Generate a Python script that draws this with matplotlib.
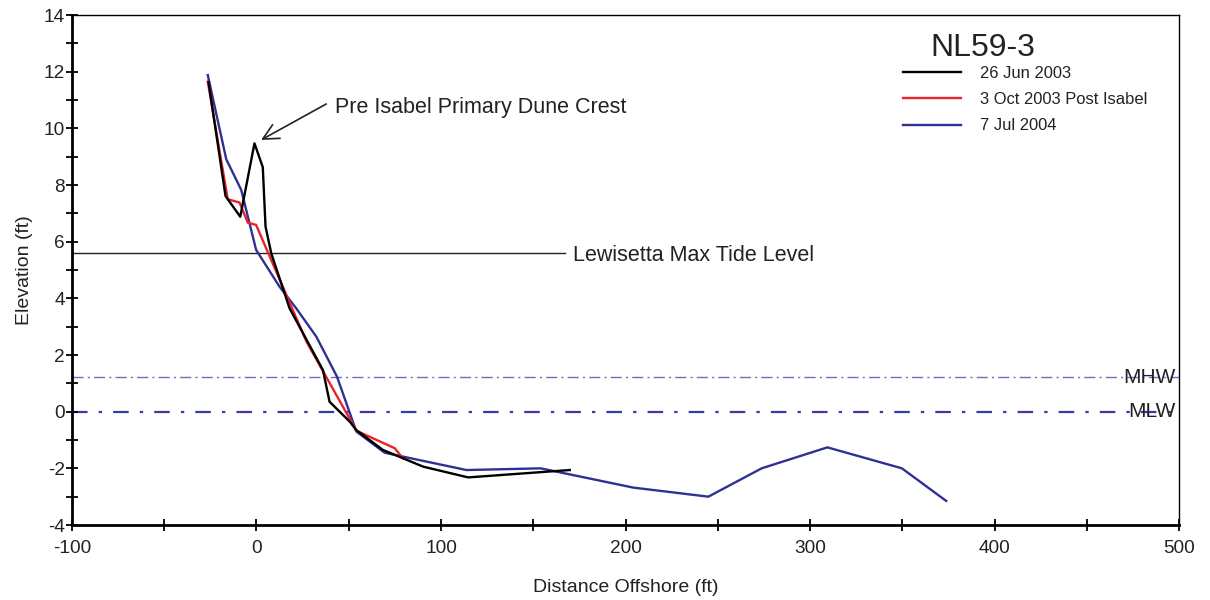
import matplotlib
matplotlib.use("Agg")
import matplotlib.pyplot as plt
from matplotlib.ticker import MultipleLocator

plt.rcParams['font.family'] = ['Liberation Sans', 'DejaVu Sans']
plt.rcParams['axes.unicode_minus'] = False

# Data (distance offshore ft, elevation ft)
jun2003_x = [-26, -16.8, -8.8, -1.1, 3.4, 4.9, 8.0, 17.9, 36.0, 39.6, 50.5, 54.1, 68.5, 90.3, 114.7, 169.8]
jun2003_y = [11.63, 7.61, 6.88, 9.47, 8.63, 6.53, 5.59, 3.65, 1.47, 0.35, -0.35, -0.65, -1.35, -1.94, -2.32, -2.06]

oct2003_x = [-26.4, -15.6, -9.2, -4.7, -0.2, 8.0, 27.1, 54.1, 74.9, 79.4]
oct2003_y = [11.65, 7.50, 7.38, 6.67, 6.59, 5.35, 2.47, -0.67, -1.29, -1.65]

jul2004_x = [-26.4, -16.4, -8.3, -0.2, 12.5, 21.5, 32.4, 43.6, 54.1, 69.5, 113.8, 154.0, 204.2, 244.9, 273.8, 309.4, 349.8, 373.8]
jul2004_y = [11.88, 8.91, 7.83, 5.71, 4.41, 3.65, 2.65, 1.24, -0.70, -1.45, -2.06, -2.00, -2.68, -3.00, -2.00, -1.26, -2.00, -3.15]

series_labels = ['26 Jun 2003', '3 Oct 2003 Post Isabel', '7 Jul 2004']
mhw_level = 1.22
mlw_level = 0.0
max_tide_level = 5.6
max_tide_end = 167
dune_crest = (2.5, 9.59)
dune_label_pos = (42.3, 10.75)
dune_arrow_tail = (37.8, 10.86)

fig = plt.figure(figsize=(12.1, 6.0), dpi=100)
ax = fig.add_axes([0.0595, 0.125, 0.9149, 0.85])

ax.plot(jun2003_x, jun2003_y, color='black', lw=1.7, label=series_labels[0], zorder=4)
ax.plot(oct2003_x, oct2003_y, color='#e8232a', lw=1.7, label=series_labels[1], zorder=3)
ax.plot(jul2004_x, jul2004_y, color='#2e3192', lw=1.7, label=series_labels[2], zorder=2)

ax.axhline(mhw_level, color='#6b6bd0', lw=1.0, ls=(0, (8, 3, 1.5, 3)), zorder=1)
ax.axhline(mlw_level, color='#3b3ba8', lw=1.6, ls=(0, (7, 5, 1.5, 5)), zorder=1)
ax.plot([-100, max_tide_end], [max_tide_level, max_tide_level], color='#222222', lw=1.0, zorder=1)

ax.text(171.5, max_tide_level - 0.1, 'Lewisetta Max Tide Level', fontsize=15.5,
        va='center', ha='left', color='#222222')
ax.text(498, mhw_level, 'MHW', fontsize=15, va='center', ha='right', color='#222222')
ax.text(498, mlw_level, 'MLW', fontsize=15, va='center', ha='right', color='#222222')

ax.text(dune_label_pos[0], dune_label_pos[1], 'Pre Isabel Primary Dune Crest', fontsize=15.5,
        va='center', ha='left', color='#222222')
ax.annotate('', xy=dune_crest, xytext=dune_arrow_tail,
            arrowprops=dict(arrowstyle='->', color='#222222', lw=1.2,
                            mutation_scale=28, shrinkA=0, shrinkB=0))

ax.set_xlim(-100, 500)
ax.set_ylim(-4, 14)
ax.xaxis.set_major_locator(MultipleLocator(100))
ax.xaxis.set_minor_locator(MultipleLocator(50))
ax.yaxis.set_major_locator(MultipleLocator(2))
ax.yaxis.set_minor_locator(MultipleLocator(1))
ax.tick_params(which='both', direction='inout', length=8, width=1.3, labelsize=13.7,
               top=False, right=False, labelcolor='#222222')
ax.tick_params(axis='x', pad=7)
ax.tick_params(axis='y', pad=1)
for s in ['left', 'bottom']:
    ax.spines[s].set_linewidth(2.0)
for s in ['top', 'right']:
    ax.spines[s].set_linewidth(1.0)

ax.set_xlabel('Distance Offshore (ft)', fontsize=14, labelpad=16, color='#222222')
ax.set_ylabel('Elevation (ft)', fontsize=14, labelpad=8, color='#222222')

fig.text(0.812, 0.92, 'NL59-3', fontsize=23, ha='center', va='center', color='#222222')
leg = ax.legend(loc='upper left', frameon=False, fontsize=11.9, handlelength=3.5,
                handletextpad=1.2, labelspacing=0.68, borderaxespad=0, borderpad=0)
leg.set_bbox_to_anchor((0.746, 0.89), transform=fig.transFigure)
for t in leg.get_texts():
    t.set_color('#222222')

fig.savefig('out.png', dpi=100)
